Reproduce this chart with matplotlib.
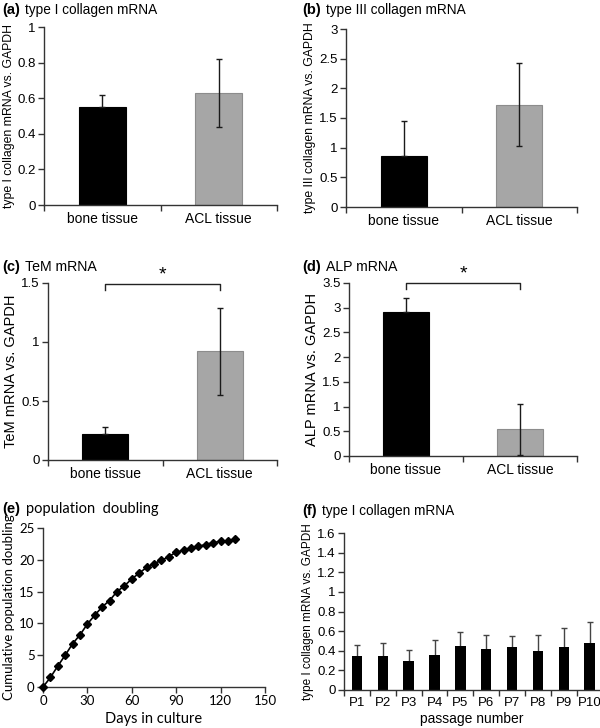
import matplotlib.pyplot as plt
import numpy as np

plt.rcParams['font.family'] = ['Liberation Sans', 'DejaVu Sans']

# panel data
tissues = ['bone tissue', 'ACL tissue']
col1_mean = [0.55, 0.63]
col1_err = [0.07, 0.19]
col3_mean = [0.86, 1.72]
col3_err = [0.59, 0.70]
tem_mean = [0.22, 0.92]
tem_err = [0.06, 0.37]
alp_mean = [2.92, 0.54]
alp_err = [0.28, 0.52]

days = [0, 5, 10, 15, 20, 25, 30, 35, 40, 45, 50, 55, 60, 65, 70, 75, 80, 85,
        90, 95, 100, 105, 110, 115, 120, 125, 130]
pop_doubling = [0, 1.5, 3.3, 5.0, 6.8, 8.2, 9.9, 11.3, 12.6, 13.6, 15.0, 15.9,
                17.0, 17.9, 18.8, 19.4, 19.9, 20.5, 21.2, 21.5, 21.8, 22.1,
                22.4, 22.7, 22.9, 23.0, 23.3]

passages = ['P1', 'P2', 'P3', 'P4', 'P5', 'P6', 'P7', 'P8', 'P9', 'P10']
pass_mean = [0.35, 0.35, 0.30, 0.36, 0.45, 0.42, 0.44, 0.40, 0.44, 0.48]
pass_err = [0.11, 0.13, 0.11, 0.15, 0.14, 0.14, 0.11, 0.16, 0.19, 0.21]

W, H = 600, 728
fig = plt.figure(figsize=(W / 100, H / 100), dpi=100)
CAL = ['Lato', 'DejaVu Sans']
bar_colors = ['black', '#a6a6a6']


def px_axes(x0, y0, x1, y1):
    return fig.add_axes([x0 / W, 1 - y1 / H, (x1 - x0) / W, (y1 - y0) / H])


def style(ax):
    for s in ['top', 'right']:
        ax.spines[s].set_visible(False)
    for s in ['left', 'bottom']:
        ax.spines[s].set_color('#333333')
        ax.spines[s].set_linewidth(1.0)
    ax.tick_params(direction='out', length=4, width=1, color='#333333',
                   labelsize=9.5, pad=2)


def heading(x_px, y_px, letter, title, family=None, size=9.8):
    t = fig.text(x_px / W, 1 - y_px / H, letter, fontsize=10.5,
                 fontweight='bold', ha='left', va='center')
    kw = {} if family is None else {'family': family}
    plt.annotate(title, xy=(1, 0.5), xycoords=t, xytext=(4, 0),
                 textcoords='offset points', ha='left', va='center',
                 fontsize=size, annotation_clip=False, **kw)


def tissue_panel(ax, means, errs, ymax, ystep, ylabel, ylsize):
    x = np.arange(len(tissues))
    ax.bar(x, means, width=0.4, color=bar_colors,
           edgecolor=['black', '#8c8c8c'], linewidth=0.8, zorder=2)
    # lower whisker hidden inside the black bar, as in the original
    lower = [0 if c == 'black' else e for c, e in zip(bar_colors, errs)]
    ax.errorbar(x, means, yerr=[lower, errs], fmt='none', ecolor='#1a1a1a',
                elinewidth=1, capsize=2, capthick=1, zorder=3)
    ax.set_xlim(-0.5, 1.5)
    ax.set_ylim(0, ymax)
    yt = np.arange(0, ymax + 1e-9, ystep)
    ax.set_yticks(yt)
    ax.set_yticklabels([f'{v:g}' for v in yt])
    ax.set_xticks([-0.5, 0.5, 1.5])
    ax.set_xticklabels([])
    ax.set_xticks(x, minor=True)
    ax.set_xticklabels(tissues, minor=True, fontsize=10)
    style(ax)
    ax.tick_params(axis='x', which='minor', length=0, pad=5)
    ax.set_ylabel(ylabel, fontsize=ylsize, labelpad=2)


def bracket(ax, y, drop):
    ax.plot([0, 0, 1, 1], [y - drop, y, y, y - drop], color='#222222',
            lw=1, clip_on=False)
    ax.text(0.5, y + drop * 0.2, '*', ha='center', va='bottom', fontsize=14)


plt.figure(fig.number)

ax_a = px_axes(44, 27, 277, 205)
tissue_panel(ax_a, col1_mean, col1_err, 1.0, 0.2,
             'type I collagen mRNA vs. GAPDH', 8.8)
heading(2, 10, '(a)', 'type I collagen mRNA')

ax_b = px_axes(346, 29, 577, 207)
tissue_panel(ax_b, col3_mean, col3_err, 3.0, 0.5,
             'type III collagen mRNA vs. GAPDH', 8.8)
heading(302, 10, '(b)', 'type III collagen mRNA')

ax_c = px_axes(48, 283, 277, 460)
tissue_panel(ax_c, tem_mean, tem_err, 1.5, 0.5,
             'TeM mRNA vs. GAPDH', 10.5)
bracket(ax_c, 1.49, 0.05)
heading(2, 267, '(c)', 'TeM mRNA', size=10.2)

ax_d = px_axes(349, 283, 577, 456)
tissue_panel(ax_d, alp_mean, alp_err, 3.5, 0.5,
             'ALP mRNA vs. GAPDH', 10.5)
bracket(ax_d, 3.49, 0.12)
heading(302, 267, '(d)', 'ALP mRNA', size=10.2)

# (e) population doubling
ax_e = px_axes(43, 528, 265, 687)
ax_e.errorbar(days, pop_doubling, yerr=0.3, fmt='-D', color='black',
              ms=4.5, lw=1.2, elinewidth=0.8, capsize=1.5, clip_on=False,
              zorder=3)
ax_e.set_xlim(0, 150)
ax_e.set_ylim(0, 25)
ax_e.set_xticks([0, 30, 60, 90, 120, 150])
ax_e.set_yticks([0, 5, 10, 15, 20, 25])
style(ax_e)
for lab in ax_e.get_xticklabels() + ax_e.get_yticklabels():
    lab.set_family(CAL)
    lab.set_fontsize(9.5)
ax_e.set_xlabel('Days in culture', fontsize=10.5, family=CAL, labelpad=3)
ax_e.set_ylabel('Cumulative population doubling', fontsize=9.5, family=CAL,
                labelpad=3)
heading(2, 509, '(e)', 'population  doubling', family=CAL, size=10.5)

# (f) type I collagen by passage
ax_f = px_axes(344, 533, 600, 690)
xp = np.arange(len(passages))
ax_f.bar(xp, pass_mean, width=0.4, color='black', zorder=2)
ax_f.errorbar(xp, pass_mean, yerr=pass_err, fmt='none', ecolor='#444444',
              elinewidth=1, capsize=2, capthick=1, zorder=1)
ax_f.set_xlim(-0.5, 9.4)
ax_f.set_ylim(0, 1.6)
yt = np.arange(0, 1.61, 0.2)
ax_f.set_yticks(yt)
ax_f.set_yticklabels([f'{v:g}' for v in yt])
ax_f.set_xticks(np.arange(-0.5, 9.5, 1.0))
ax_f.set_xticklabels([])
ax_f.set_xticks(xp, minor=True)
ax_f.set_xticklabels(passages, minor=True, fontsize=9.5)
style(ax_f)
ax_f.tick_params(axis='x', which='minor', length=0, pad=5)
ax_f.set_xlabel('passage number', fontsize=10, labelpad=2)
ax_f.set_ylabel('type I collagen mRNA vs. GAPDH', fontsize=8.5, labelpad=2)
heading(302, 511, '(f)', 'type I collagen mRNA')

fig.savefig('out.png', dpi=100)
